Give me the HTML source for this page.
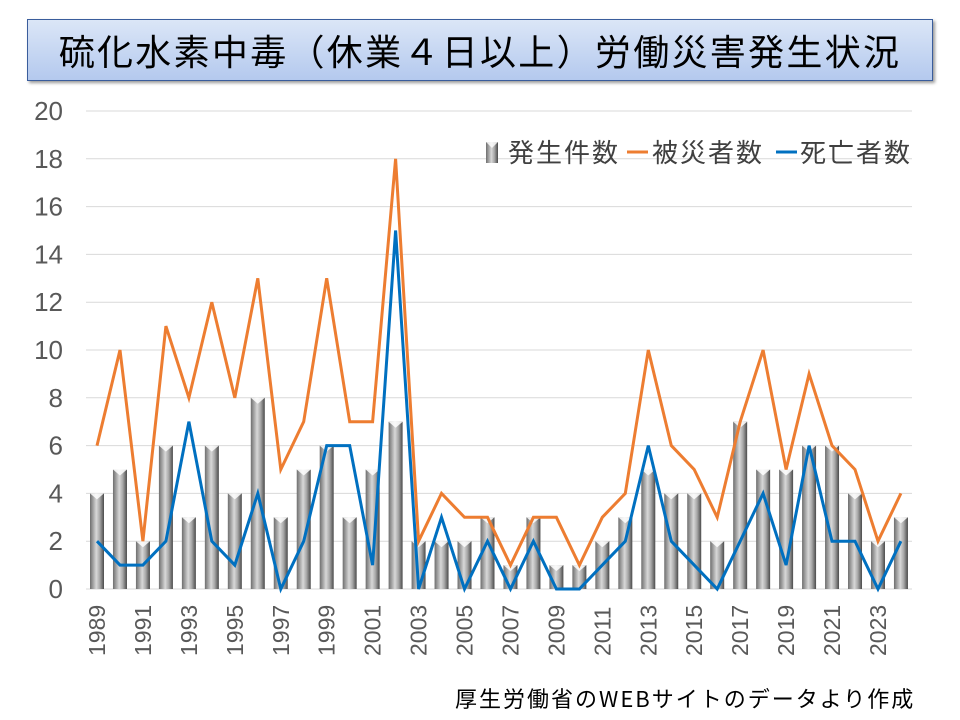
<!DOCTYPE html>
<html><head><meta charset="utf-8">
<style>
html,body{margin:0;padding:0;background:#fff;}
body{width:960px;height:720px;overflow:hidden;position:relative;font-family:"Liberation Sans","Noto Sans CJK JP",sans-serif;}
#title{position:absolute;left:27px;top:19px;width:904px;height:60px;border:1.5px solid #3a5d9c;
background:linear-gradient(#dbe6f7,#b4c9ee);box-shadow:2px 2px 3px rgba(0,0,0,0.4);
font-size:36px;line-height:60px;text-align:center;color:#000;font-family:"Noto Sans CJK JP",sans-serif;letter-spacing:2.3px;}
#foot{position:absolute;left:455px;top:682px;font-size:22px;letter-spacing:2px;color:#000;font-family:"Noto Sans CJK JP",sans-serif;}
svg{position:absolute;left:0;top:0;}
</style></head><body>
<div id="title">硫化水素中毒（休業４日以上）労働災害発生状況</div>
<svg id="s" width="960" height="720" xmlns="http://www.w3.org/2000/svg">
<defs>
<linearGradient id="bg" x1="0" x2="1" y1="0" y2="0">
<stop offset="0" stop-color="#6e6e6e"/><stop offset="0.45" stop-color="#d8d8d8"/><stop offset="0.7" stop-color="#a8a8a8"/><stop offset="1" stop-color="#4a4a4a"/>
</linearGradient>
</defs>
<g id="g"></g>
<g font-family="Noto Sans CJK JP, sans-serif" font-size="26" fill="#404040" letter-spacing="2">
<rect x="486" y="142" width="12" height="21" fill="url(#bg)"/>
<polygon points="486,142 498,142 492,148" fill="#fff" opacity="0.8"/>
<text x="508" y="162">発生件数</text>
<line x1="627" y1="152" x2="648" y2="152" stroke="#ed7d31" stroke-width="3"/>
<text x="652" y="162">被災者数</text>
<line x1="776" y1="152" x2="797" y2="152" stroke="#0070c0" stroke-width="3"/>
<text x="800" y="162">死亡者数</text>
</g>
</svg>
<div id="foot">厚生労働省のWEBサイトのデータより作成</div>
<script>
var bars=[4,5,2,6,3,6,4,8,3,5,6,3,5,7,2,2,2,3,1,3,1,1,2,3,5,4,4,2,7,5,5,6,6,4,2,3];
var org=[6,10,2,11,8,12,8,13,5,7,13,7,7,18,2,4,3,3,1,3,3,1,3,4,10,6,5,3,7,10,5,9,6,5,2,4];
var blu=[2,1,1,2,7,2,1,4,0,2,6,6,1,15,0,3,0,2,0,2,0,0,1,2,6,2,1,0,2,4,1,6,2,2,0,2];
var y0=589,u=23.9,x0=97,dx=22.97,h='';
function Y(v){return y0-v*u;}
for(var v=0;v<=20;v+=2){
 h+='<line x1="86" x2="912" y1="'+Y(v)+'" y2="'+Y(v)+'" stroke="#d9d9d9" stroke-width="1"/>';
 h+='<text x="63" y="'+(Y(v)+9)+'" text-anchor="end" font-size="26" fill="#595959" font-family="Liberation Sans Narrow, Liberation Sans, sans-serif">'+v+'</text>';
}
for(var i=0;i<36;i++){
 var x=x0+i*dx,t=Y(bars[i]);
 h+='<rect x="'+(x-7)+'" y="'+t+'" width="14" height="'+(y0-t)+'" fill="url(#bg)"/>';
 h+='<polygon points="'+(x-7)+','+t+' '+(x+7)+','+t+' '+x+','+(t+6)+'" fill="#fff" opacity="0.85"/>';
 if(i%2==0) h+='<text transform="translate('+(x+8)+',656) rotate(-90)" font-size="23" fill="#595959" font-family="Liberation Sans Narrow, Liberation Sans, sans-serif">'+(1989+i)+'</text>';
}
function pl(a,c){var p=[];for(var i=0;i<36;i++)p.push((x0+i*dx).toFixed(1)+','+Y(a[i]).toFixed(1));
 return '<polyline points="'+p.join(' ')+'" fill="none" stroke="'+c+'" stroke-width="3" stroke-linejoin="miter"/>';}
h+=pl(org,'#ed7d31')+pl(blu,'#0070c0');
document.getElementById('g').innerHTML=h;
</script>
</body></html>
